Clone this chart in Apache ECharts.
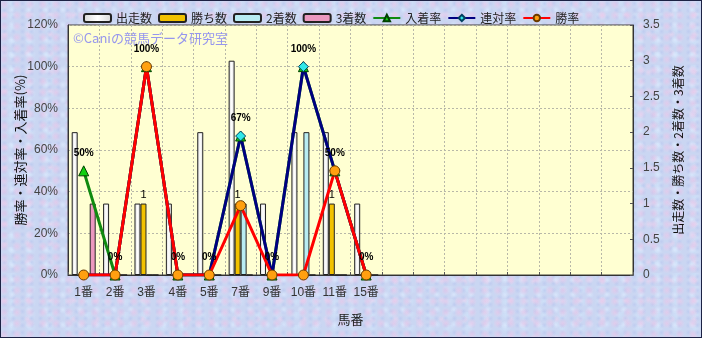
<!DOCTYPE html>
<html><head><meta charset="utf-8">
<script src="https://cdn.jsdelivr.net/npm/echarts@6/dist/echarts.min.js"></script>
<style>
html,body{margin:0;padding:0;}
#wrap{position:relative;width:702px;height:338px;overflow:hidden;
background-color:#cad6f2;
background-image:
 radial-gradient(circle at 30% 40%, rgba(236,198,232,0.65) 0, rgba(236,198,232,0) 5px),
 radial-gradient(circle at 70% 65%, rgba(222,236,255,0.7) 0, rgba(222,236,255,0) 4px),
 radial-gradient(circle at 50% 50%, rgba(184,198,238,0.6) 0, rgba(184,198,238,0) 3px),
 radial-gradient(circle at 20% 80%, rgba(240,210,238,0.6) 0, rgba(240,210,238,0) 4px),
 radial-gradient(circle at 60% 20%, rgba(208,228,250,0.7) 0, rgba(208,228,250,0) 6px);
background-size:13px 11px, 17px 15px, 9px 7px, 23px 19px, 19px 13px;}
#chart{position:absolute;left:0;top:0;width:702px;height:338px;}
#frame{position:absolute;left:0;top:0;width:700px;height:336px;border:1px solid #1c2244;pointer-events:none;}
</style></head>
<body>
<div id="wrap"><div id="chart"></div><div id="frame"></div></div>
<script>
// ---- data ----
const categories = ['1番','2番','3番','4番','5番','7番','9番','10番','11番','15番','','','','','','','',''];
const starts   = [2,1,1,1,2,3,1,2,2,1];   // 出走数
const wins     = [0,0,1,0,0,1,0,0,1,0];   // 勝ち数
const seconds  = [0,0,0,0,0,1,0,2,0,0];   // 2着数
const thirds   = [1,0,0,0,0,0,0,0,0,0];   // 3着数
const placeRate = [50,0,100,0,0,66.7,0,100,50,0];  // 入着率 %
const quinRate  = [0,0,100,0,0,66.7,0,100,50,0];   // 連対率 %
const winRate   = [0,0,100,0,0,33.3,0,0,50,0];     // 勝率 %
const leftTicks = {min:0,max:120,interval:20};
const rightTicks = {min:0,max:3.5,interval:0.5};

function pad(arr){const out=arr.slice();while(out.length<categories.length)out.push('-');return out;}

const FONT = "'Liberation Sans Narrow','Liberation Sans','Noto Sans CJK JP',sans-serif";
const JFONT = "'Noto Sans CJK JP',sans-serif";

const chart = echarts.init(document.getElementById('chart'), null, {renderer:'canvas'});
const barBase = {type:'bar', yAxisIndex:1, barWidth:6, barGap:'0%'};
chart.setOption({
  animation:false,
  backgroundColor:'transparent',
  textStyle:{fontFamily:JFONT},
  legend:{
    left:83, top:12, padding:0, itemWidth:27, itemHeight:8, itemGap:6,
    textStyle:{fontSize:12, color:'#222', fontFamily:JFONT},
    data:['出走数','勝ち数','2着数','3着数','入着率','連対率','勝率']
  },
  grid:{left:68, right:69, top:25, bottom:63, containLabel:false, outerBoundsMode:'none',
    show:true, backgroundColor:'#ffffd2', borderColor:'#404040', borderWidth:1},
  graphic:[{type:'text', left:73, top:32, silent:true,
    style:{text:'©Caniの競馬データ研究室', fill:'#9696ee', font:"13px 'Noto Sans CJK JP', sans-serif"}}],
  xAxis:{
    type:'category', data:categories,
    name:'馬番', nameLocation:'middle', nameGap:38, nameMoveOverlap:false,
    nameTextStyle:{fontSize:13, color:'#222', fontFamily:JFONT},
    axisLine:{lineStyle:{color:'#333'}},
    axisTick:{show:true, inside:true, length:3, lineStyle:{color:'#555'}},
    axisLabel:{fontSize:12, color:'#333', margin:12, interval:0, fontFamily:FONT},
    splitLine:{show:true, lineStyle:{color:'#b8b8a8', type:[2,2]}}
  },
  yAxis:[{
    type:'value', min:leftTicks.min, max:leftTicks.max, interval:leftTicks.interval,
    name:'勝率・連対率・入着率(%)', nameLocation:'middle', nameRotate:90, nameGap:41, nameMoveOverlap:false,
    nameTextStyle:{fontSize:13, color:'#111', fontFamily:JFONT},
    axisLine:{show:true, lineStyle:{color:'#333'}},
    axisTick:{show:false},
    axisLabel:{formatter:'{value}%', fontSize:12, color:'#444', margin:10, fontFamily:FONT},
    splitLine:{show:true, lineStyle:{color:'#b8b8a8', type:[2,2]}}
  },{
    type:'value', position:'right', min:rightTicks.min, max:rightTicks.max, interval:rightTicks.interval,
    name:'出走数・勝ち数・2着数・3着数', nameLocation:'middle', nameRotate:90, nameGap:39, nameMoveOverlap:false,
    nameTextStyle:{fontSize:12, color:'#111', fontFamily:JFONT},
    axisLine:{show:true, lineStyle:{color:'#333'}},
    axisTick:{show:true, inside:true, length:3, lineStyle:{color:'#555'}},
    axisLabel:{fontSize:12, color:'#444', margin:10, fontFamily:FONT},
    splitLine:{show:false}
  }],
  series:[
    Object.assign({}, barBase, {name:'出走数', data:pad(starts),
      itemStyle:{color:new echarts.graphic.LinearGradient(0,0,1,0,[{offset:0,color:'#d8d8d8'},{offset:0.5,color:'#ffffff'},{offset:1,color:'#d8d8d8'}]), borderColor:'#222', borderWidth:1}}),
    Object.assign({}, barBase, {name:'勝ち数', data:pad(wins),
      itemStyle:{color:'#f2c200', borderColor:'#222', borderWidth:1},
      label:{show:true, position:'top', distance:3, fontSize:11, color:'#000', fontFamily:FONT,
        formatter:p=>(p.value>0? String(p.value):'')}}),
    Object.assign({}, barBase, {name:'2着数', data:pad(seconds),
      itemStyle:{color:'#b8ecf2', borderColor:'#222', borderWidth:1}}),
    Object.assign({}, barBase, {name:'3着数', data:pad(thirds),
      itemStyle:{color:'#ec98c0', borderColor:'#222', borderWidth:1}}),
    {type:'line', name:'入着率', yAxisIndex:0, data:pad(placeRate),
      symbol:'triangle', symbolSize:10,
      lineStyle:{color:'#108a10', width:3},
      itemStyle:{color:'#10d010', borderColor:'#004000', borderWidth:1},
      label:{show:true, position:'top', distance:7, fontSize:10, fontWeight:'bold', color:'#000', fontFamily:FONT,
        formatter:p=>Math.round(p.value)+'%'}},
    {type:'line', name:'連対率', yAxisIndex:0, data:pad(quinRate),
      symbol:'diamond', symbolSize:10,
      lineStyle:{color:'#000080', width:3},
      itemStyle:{color:'#30e8e8', borderColor:'#004060', borderWidth:1}},
    {type:'line', name:'勝率', yAxisIndex:0, data:pad(winRate),
      symbol:'circle', symbolSize:10,
      lineStyle:{color:'#ff0000', width:3},
      itemStyle:{color:'#ffa010', borderColor:'#6a3a00', borderWidth:1}}
  ]
});
</script>
</body></html>
